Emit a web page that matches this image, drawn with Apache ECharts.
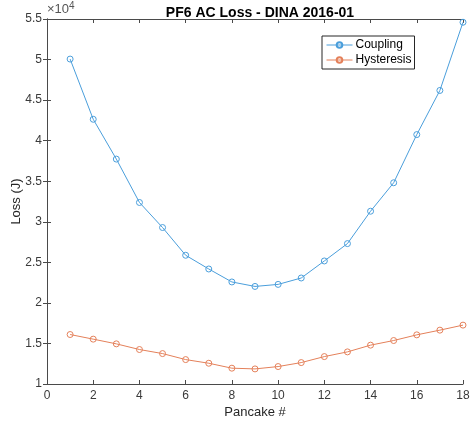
<!DOCTYPE html>
<html>
<head>
<meta charset="utf-8">
<script src="https://cdn.jsdelivr.net/npm/echarts@6/dist/echarts.min.js"></script>
<style>html,body{margin:0;padding:0;background:#fff}#c{width:471px;height:430px}</style>
</head>
<body>
<div id="c"></div>
<script>
var pancakes = [1,2,3,4,5,6,7,8,9,10,11,12,13,14,15,16,17,18];
var coupling = [50060,42640,37730,32380,29290,25870,24180,22580,22030,22280,23070,25170,27310,31300,34810,40750,46190,54600];
var hysteresis = [16100,15530,14950,14250,13750,13010,12560,11950,11860,12150,12640,13380,13960,14790,15360,16060,16640,17260];
var yTicks = [1,1.5,2,2.5,3,3.5,4,4.5,5,5.5];
var xTicks = [0,2,4,6,8,10,12,14,16,18];

var font = 'Liberation Sans, Arial, Helvetica, sans-serif';
var axisCol = '#4a4a4a';
var blue = '#4a9edb', orange = '#e4805a';
var chart = echarts.init(document.getElementById('c'), null, {renderer:'canvas'});
function pairs(ys){ return pancakes.map(function(x,i){ return [x, ys[i]]; }); }
var yAxisBase = {
  type:'value', min: yTicks[0]*1e4, max: yTicks[yTicks.length-1]*1e4, interval: 5000,
  splitLine:{show:false},
  axisLine:{show:true, lineStyle:{color:axisCol, width:1}},
  axisTick:{show:true, inside:true, length:4, lineStyle:{color:axisCol}}
};
var xAxisBase = {
  type:'value', min: xTicks[0], max: xTicks[xTicks.length-1], interval: 2,
  splitLine:{show:false},
  axisLine:{show:true, lineStyle:{color:axisCol, width:1}},
  axisTick:{show:true, inside:true, length:4, lineStyle:{color:axisCol}}
};
chart.setOption({
  animation:false,
  title:{text:'PF6 AC Loss - DINA 2016-01', left:255, top:1, textAlign:'center',
    textStyle:{fontFamily:font, fontSize:14, fontWeight:'bold', color:'#000'}},
  grid:{left:47, right:8, top:19, bottom:46, containLabel:false, outerBoundsMode:'none'},
  legend:{
    orient:'vertical', left:322, top:36,
    backgroundColor:'#fff', borderColor:'#262626', borderWidth:1,
    padding:[3,3,3,4], itemGap:3, itemWidth:26, itemHeight:7,
    lineStyle:{width:1},
    textStyle:{fontFamily:font, fontSize:12, color:'#000', padding:[0,0,0,-2]},
    data:['Coupling','Hysteresis']
  },
  xAxis:[
    Object.assign({}, xAxisBase, {position:'bottom', name:'Pancake #', nameLocation:'middle', nameGap:22,
      nameMoveOverlap:false,
      nameTextStyle:{fontFamily:font, fontSize:13, color:'#262626'},
      axisLabel:{fontFamily:font, fontSize:12, color:'#3a3a3a', margin:6}}),
    Object.assign({}, xAxisBase, {position:'top', axisLabel:{show:false}})
  ],
  yAxis:[
    Object.assign({}, yAxisBase, {position:'left', name:'Loss (J)', nameLocation:'middle', nameGap:24,
      nameMoveOverlap:false,
      nameTextStyle:{fontFamily:font, fontSize:13, color:'#262626'},
      axisLabel:{fontFamily:font, fontSize:12, color:'#3a3a3a', margin:5,
        formatter:function(v){ return String(+(v/1e4).toFixed(1)); }}}),
    Object.assign({}, yAxisBase, {position:'right', axisLabel:{show:false}})
  ],
  graphic:[{
    type:'text', left:47, top:1,
    style:{text:'×10{s|4}', fontFamily:font, fontSize:13, fill:'#555',
      rich:{s:{fontSize:10, verticalAlign:'top', padding:[0,0,6,0], fill:'#555'}}}
  }],
  series:[
    {name:'Coupling', type:'line', data:pairs(coupling), symbol:'circle', symbolSize:6,
      lineStyle:{color:blue, width:1}, itemStyle:{color:'rgba(255,255,255,0)', borderColor:blue, borderWidth:1},
      color:blue},
    {name:'Hysteresis', type:'line', data:pairs(hysteresis), symbol:'circle', symbolSize:6,
      lineStyle:{color:orange, width:1}, itemStyle:{color:'rgba(255,255,255,0)', borderColor:orange, borderWidth:1},
      color:orange}
  ]
});
</script>
</body>
</html>
